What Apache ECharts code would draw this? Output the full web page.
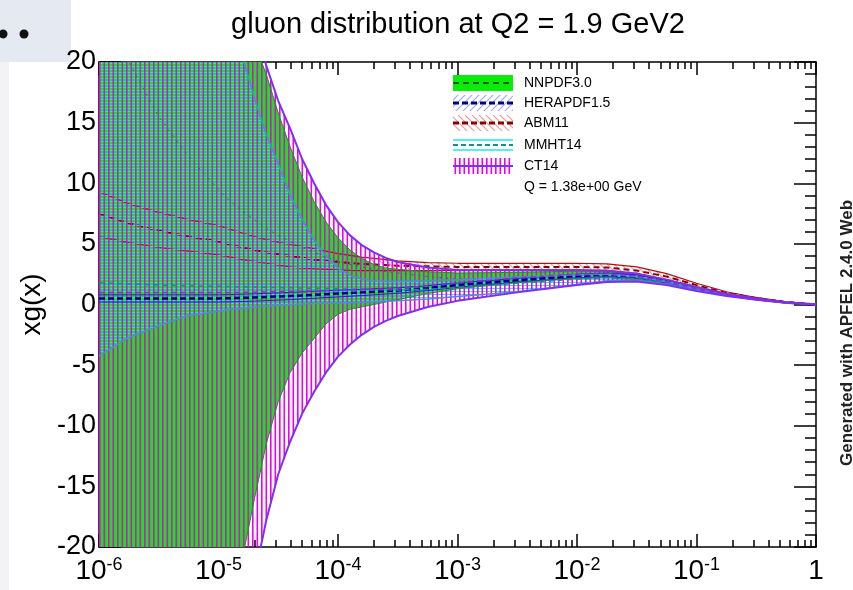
<!DOCTYPE html>
<html>
<head>
<meta charset="utf-8">
<title>gluon distribution</title>
<script src="https://cdn.jsdelivr.net/npm/echarts@6/dist/echarts.min.js"></script>
<style>
  html, body { margin: 0; padding: 0; background: #ffffff; }
  #chart { width: 853px; height: 590px; }
</style>
</head>
<body>
<div id="chart"></div>
<script>
// ---- sampling points in x (log scale) ----
const X_VALUES = [1e-6, 1.78e-6, 3.16e-6, 5.62e-6, 1e-5, 1.26e-5, 1.58e-5, 2e-5, 2.51e-5, 3.16e-5,
  3.98e-5, 5.01e-5, 6.31e-5, 7.94e-5, 1e-4, 1.26e-4, 1.58e-4, 2e-4, 2.51e-4, 3.16e-4,
  5.62e-4, 1e-3, 3.16e-3, 1e-2, 1.78e-2, 3.16e-2, 5.62e-2, 0.1, 0.178, 0.316, 0.562, 1];

// ---- axis ticks ----
const X_DECADES = [1e-6, 1e-5, 1e-4, 1e-3, 1e-2, 1e-1, 1];
const X_MINOR_STEPS = [2, 3, 4, 5, 6, 7, 8, 9];
const Y_MIN = -20, Y_MAX = 20, Y_STEP = 5;

// ---- PDF sets ----
const SET_NAMES = ['NNPDF3.0', 'HERAPDF1.5', 'ABM11', 'MMHT14', 'CT14'];

const NNPDF_HI  = [60, 50, 42, 36, 30, 27, 24.5, 21.5, 19, 15.8, 13, 10.5, 8.5, 6.8, 5.5, 4.5, 3.8, 3.3, 3.0, 2.9, 2.7, 2.6, 2.65, 2.75, 2.75, 2.55, 2.05, 1.45, 0.9, 0.52, 0.19, 0];
const NNPDF_MID = [30, 20, 15.5, 12.2, 9.5, 8.5, 7.7, 7.0, 6.3, 5.7, 5.2, 4.7, 4.3, 3.9, 3.6, 3.3, 3.1, 2.9, 2.7, 2.6, 2.3, 2.1, 2.2, 2.45, 2.5, 2.3, 1.88, 1.32, 0.82, 0.47, 0.17, 0];
const NNPDF_LO  = [-60, -55, -48, -40, -31, -26, -21, -16, -11.5, -8.0, -5.6, -4.0, -2.8, -1.6, -0.8, -0.4, -0.2, 0.0, 0.2, 0.4, 0.9, 1.3, 1.8, 2.15, 2.2, 2.05, 1.7, 1.2, 0.75, 0.42, 0.15, 0];

const HERA_HI  = [0.8, 0.8, 0.8, 0.8, 0.8, 0.82, 0.85, 0.88, 0.92, 0.96, 1.0, 1.04, 1.09, 1.13, 1.18, 1.22, 1.26, 1.3, 1.34, 1.38, 1.55, 1.78, 2.15, 2.5, 2.6, 2.45, 2.02, 1.4, 0.87, 0.49, 0.18, 0];
const HERA_MID = [0.5, 0.5, 0.5, 0.5, 0.5, 0.52, 0.55, 0.58, 0.62, 0.66, 0.7, 0.75, 0.8, 0.85, 0.9, 0.95, 1.0, 1.05, 1.1, 1.15, 1.35, 1.6, 2.0, 2.35, 2.45, 2.3, 1.9, 1.3, 0.8, 0.45, 0.16, 0];
const HERA_LO  = [0.2, 0.2, 0.2, 0.2, 0.2, 0.22, 0.25, 0.28, 0.32, 0.36, 0.4, 0.46, 0.51, 0.57, 0.62, 0.68, 0.74, 0.8, 0.86, 0.92, 1.15, 1.42, 1.85, 2.2, 2.3, 2.15, 1.78, 1.2, 0.73, 0.41, 0.14, 0];

const ABM_HI  = [9.3, 8.3, 7.6, 7.0, 6.5, 6.2, 5.9, 5.6, 5.35, 5.15, 4.95, 4.8, 4.6, 4.4, 4.2, 4.05, 3.9, 3.8, 3.7, 3.6, 3.45, 3.4, 3.4, 3.4, 3.35, 3.1, 2.55, 1.75, 1.05, 0.58, 0.21, 0];
const ABM_MID = [7.5, 6.7, 6.1, 5.6, 5.2, 4.95, 4.7, 4.5, 4.3, 4.15, 4.0, 3.85, 3.7, 3.6, 3.5, 3.42, 3.35, 3.3, 3.25, 3.2, 3.15, 3.1, 3.1, 3.1, 3.05, 2.8, 2.3, 1.6, 0.95, 0.53, 0.19, 0];
const ABM_LO  = [5.6, 5.1, 4.7, 4.4, 4.1, 3.9, 3.7, 3.55, 3.4, 3.25, 3.1, 3.0, 2.95, 2.9, 2.85, 2.82, 2.8, 2.8, 2.8, 2.8, 2.8, 2.8, 2.8, 2.8, 2.75, 2.5, 2.05, 1.45, 0.85, 0.48, 0.17, 0];

const MMHT_HI  = [70, 60, 50, 40, 30, 25, 20.5, 17, 14, 11.6, 9.0, 7.0, 5.3, 4.0, 3.0, 2.4, 2.1, 1.95, 1.9, 1.9, 1.95, 2.05, 2.25, 2.45, 2.5, 2.3, 1.88, 1.3, 0.8, 0.46, 0.16, 0];
const MMHT_MID = [1.8, 1.7, 1.6, 1.55, 1.5, 1.48, 1.46, 1.44, 1.42, 1.4, 1.38, 1.36, 1.34, 1.32, 1.3, 1.28, 1.26, 1.24, 1.22, 1.2, 1.25, 1.4, 1.75, 2.1, 2.2, 2.15, 1.8, 1.25, 0.77, 0.44, 0.16, 0];
const MMHT_LO  = [-4.25, -2.7, -1.75, -0.9, -0.55, -0.4, -0.3, -0.2, -0.12, -0.05, 0.0, 0.05, 0.08, 0.1, 0.12, 0.15, 0.18, 0.22, 0.26, 0.3, 0.45, 0.65, 1.05, 1.65, 1.95, 2.0, 1.7, 1.2, 0.74, 0.42, 0.15, 0];

const CT14_HI  = [80, 70, 60, 50, 40, 34, 28, 23.5, 19.7, 16.8, 14.5, 12.0, 10.0, 8.2, 6.8, 5.7, 4.9, 4.3, 3.85, 3.5, 3.05, 2.85, 2.85, 2.85, 2.8, 2.55, 2.05, 1.42, 0.88, 0.5, 0.18, 0];
const CT14_MID = [1.0, 1.0, 1.0, 1.0, 1.0, 1.0, 1.0, 1.02, 1.04, 1.06, 1.08, 1.1, 1.12, 1.14, 1.16, 1.19, 1.22, 1.25, 1.28, 1.32, 1.55, 1.8, 2.2, 2.5, 2.55, 2.35, 1.9, 1.3, 0.8, 0.45, 0.16, 0];
const CT14_LO  = [-80, -70, -60, -50, -40, -34, -28, -22.5, -17.8, -14.0, -11.3, -9.0, -7.2, -5.6, -4.3, -3.3, -2.5, -1.85, -1.35, -0.95, -0.2, 0.3, 1.0, 1.6, 1.85, 1.9, 1.6, 1.12, 0.7, 0.4, 0.14, 0];

// ---- texts ----
const TITLE = 'gluon distribution at Q2 = 1.9 GeV2';
const Y_NAME = 'xg(x)';
const SCALE_NOTE = 'Q = 1.38e+00 GeV';
const CREDIT = 'Generated with APFEL 2.4.0 Web';

const FONT = "'Liberation Sans', Arial, Helvetica, sans-serif";

// ---- fill patterns ----
function pattern(w, h, paint) {
  const c = document.createElement('canvas');
  c.width = w; c.height = h;
  paint(c.getContext('2d'), w, h);
  return { image: c, repeat: 'repeat' };
}
function diagonal(color, rising) {
  return pattern(7, 7, (g, w, h) => {
    g.strokeStyle = color; g.lineWidth = 1.1; g.beginPath();
    if (rising) {
      g.moveTo(0, h); g.lineTo(w, 0);
      g.moveTo(-1, 1); g.lineTo(1, -1);
      g.moveTo(w - 1, h + 1); g.lineTo(w + 1, h - 1);
    } else {
      g.moveTo(0, 0); g.lineTo(w, h);
      g.moveTo(-1, h - 1); g.lineTo(1, h + 1);
      g.moveTo(w - 1, -1); g.lineTo(w + 1, 1);
    }
    g.stroke();
  });
}
const FILL_NNPDF = '#0aec0a';
const FILL_HERA = diagonal('#9ea6ff', true);
const FILL_ABM = diagonal('#f29494', false);
const FILL_MMHT = pattern(2, 3, (g, w) => { g.fillStyle = '#12eeee'; g.fillRect(0, 0, w, 1); });
const FILL_CT14 = pattern(9, 2, (g, w, h) => {
  g.fillStyle = '#ee00ee';
  g.fillRect(0, 0, 1.6, h);
  g.fillRect(4.5, 0, 1.6, h);
});

// ---- series builders ----
function band(name, lo, hi, fill, z) {
  return {
    type: 'custom', name: name, z: z, silent: true, clip: true,
    xAxisIndex: 0, yAxisIndex: 0,
    data: X_VALUES.map((x, i) => [x, lo[i], hi[i]]),
    encode: { x: 0, y: [1, 2] },
    renderItem: function (params, api) {
      if (params.dataIndexInside !== 0) return null;
      const n = params.dataInsideLength;
      const upper = [], lower = [];
      for (let i = 0; i < n; i++) {
        const x = api.value(0, i);
        upper.push(api.coord([x, api.value(2, i)]));
        lower.push(api.coord([x, api.value(1, i)]));
      }
      const cs = params.coordSys;
      return {
        type: 'polygon',
        shape: { points: upper.concat(lower.reverse()) },
        style: { fill: fill, stroke: null },
        clipPath: { type: 'rect', shape: { x: cs.x, y: cs.y, width: cs.width, height: cs.height } }
      };
    }
  };
}
function curve(name, values, color, width, dash, z) {
  return {
    type: 'line', name: name, z: z, silent: true,
    xAxisIndex: 0, yAxisIndex: 0,
    data: X_VALUES.map((x, i) => [x, values[i]]),
    symbol: 'none', smooth: false,
    lineStyle: { color: color, width: width, type: dash || 'solid' },
    emphasis: { disabled: true }
  };
}

const series = [
  band(SET_NAMES[1], HERA_LO, HERA_HI, FILL_HERA, 2),
  band(SET_NAMES[2], ABM_LO, ABM_HI, FILL_ABM, 3),
  band(SET_NAMES[0], NNPDF_LO, NNPDF_HI, FILL_NNPDF, 4),
  curve(SET_NAMES[2], ABM_HI, '#b01010', 1.2, 'solid', 5),
  curve(SET_NAMES[2], ABM_LO, '#b01010', 1.2, 'solid', 5),
  curve(SET_NAMES[2], ABM_MID, '#8b0000', 2, [6, 4], 5),
  band(SET_NAMES[3], MMHT_LO, MMHT_HI, FILL_MMHT, 6),
  band(SET_NAMES[4], CT14_LO, CT14_HI, FILL_CT14, 7),
  curve(SET_NAMES[1], HERA_HI, '#2020d0', 1, 'solid', 8),
  curve(SET_NAMES[1], HERA_LO, '#2020d0', 1, 'solid', 8),
  curve(SET_NAMES[1], HERA_MID, '#00008b', 2.5, [6, 3], 8),
  curve(SET_NAMES[0], NNPDF_HI, '#2a8a2a', 1, 'solid', 9),
  curve(SET_NAMES[0], NNPDF_LO, '#2a8a2a', 1, 'solid', 9),
  curve(SET_NAMES[0], NNPDF_MID, '#2f6f45', 1, [2, 5], 9),
  curve(SET_NAMES[3], MMHT_HI, '#4a8ed8', 1.5, 'solid', 10),
  curve(SET_NAMES[3], MMHT_LO, '#4a8ed8', 1.5, 'solid', 10),
  curve(SET_NAMES[3], MMHT_MID, '#138f8f', 1.5, [5, 4], 10),
  curve(SET_NAMES[4], CT14_HI, '#7f2ff0', 2, 'solid', 11),
  curve(SET_NAMES[4], CT14_LO, '#7f2ff0', 2, 'solid', 11),
  curve(SET_NAMES[4], CT14_MID, '#8a2be2', 1.5, [5, 4], 11)
];

// ---- axes ----
const X_MINOR = [];
X_DECADES.slice(0, -1).forEach(d => X_MINOR_STEPS.forEach(m => X_MINOR.push(+(d * m).toPrecision(3))));

const TICK_STYLE = { color: '#000', width: 1.5 };
function axisLine(show) {
  return { show: show, onZero: false, lineStyle: { color: '#000', width: 1.5 } };
}

function xAxis(position, withLabels) {
  return {
    type: 'log', logBase: 10, min: X_DECADES[0], max: X_DECADES[X_DECADES.length - 1],
    position: position,
    axisLine: axisLine(true),
    axisTick: { show: true, inside: true, length: 13, lineStyle: TICK_STYLE, customValues: X_DECADES },
    axisLabel: withLabels ? {
      show: true, margin: 9, customValues: X_DECADES,
      formatter: function (v) {
        const e = Math.round(Math.log10(v));
        return e === 0 ? '{b|1}' : '{b|10}{s|' + e + '}';
      },
      rich: {
        b: { fontSize: 28, fontFamily: FONT, color: '#000', lineHeight: 30 },
        s: { fontSize: 18, fontFamily: FONT, color: '#000', lineHeight: 18, verticalAlign: 'top' }
      }
    } : { show: false },
    splitLine: { show: false }, minorTick: { show: false }, minorSplitLine: { show: false }
  };
}
function xMinorAxis(position) {
  return {
    type: 'log', logBase: 10, min: X_DECADES[0], max: X_DECADES[X_DECADES.length - 1],
    position: position,
    axisLine: axisLine(false),
    axisTick: { show: true, inside: true, length: 7, lineStyle: TICK_STYLE, customValues: X_MINOR },
    axisLabel: { show: false },
    splitLine: { show: false }
  };
}
function yAxis(position, withLabels) {
  return {
    type: 'value', min: Y_MIN, max: Y_MAX, interval: Y_STEP, position: position,
    axisLine: axisLine(true),
    axisTick: { show: true, inside: true, length: 22, lineStyle: TICK_STYLE },
    minorTick: { show: true, splitNumber: 5, length: 11, lineStyle: TICK_STYLE },
    axisLabel: withLabels ? { show: true, margin: 3, fontSize: 27, fontFamily: FONT, color: '#000' } : { show: false },
    splitLine: { show: false }, minorSplitLine: { show: false },
    name: withLabels ? Y_NAME : '',
    nameLocation: 'middle', nameRotate: 90, nameGap: 50,
    nameTextStyle: { fontSize: 28, fontFamily: FONT, color: '#000' }
  };
}

// ---- legend (drawn as graphics) ----
const LX = 453, LW = 60, LTX = 524;
const legendSwatches = [
  [
    { type: 'rect', shape: { x: LX, y: 75, width: LW, height: 16 }, style: { fill: FILL_NNPDF } },
    { type: 'line', shape: { x1: LX, y1: 83, x2: LX + LW, y2: 83 }, style: { stroke: '#1b5e1b', lineWidth: 2, lineDash: [6, 4] } }
  ],
  [
    { type: 'rect', shape: { x: LX, y: 95, width: LW, height: 16 }, style: { fill: FILL_HERA } },
    { type: 'line', shape: { x1: LX, y1: 103, x2: LX + LW, y2: 103 }, style: { stroke: '#00008b', lineWidth: 3, lineDash: [6, 3] } }
  ],
  [
    { type: 'rect', shape: { x: LX, y: 115, width: LW, height: 16 }, style: { fill: FILL_ABM } },
    { type: 'line', shape: { x1: LX, y1: 123, x2: LX + LW, y2: 123 }, style: { stroke: '#8b0000', lineWidth: 3, lineDash: [6, 3] } }
  ],
  [
    { type: 'line', shape: { x1: LX, y1: 140, x2: LX + LW, y2: 140 }, style: { stroke: '#12eeee', lineWidth: 1.6 } },
    { type: 'line', shape: { x1: LX, y1: 150, x2: LX + LW, y2: 150 }, style: { stroke: '#12eeee', lineWidth: 1.6 } },
    { type: 'line', shape: { x1: LX, y1: 145, x2: LX + LW, y2: 145 }, style: { stroke: '#138f8f', lineWidth: 2, lineDash: [5, 3] } }
  ],
  [
    { type: 'rect', shape: { x: LX, y: 158, width: LW, height: 16 }, style: { fill: FILL_CT14 } },
    { type: 'line', shape: { x1: LX, y1: 166, x2: LX + LW, y2: 166 }, style: { stroke: '#7f2ff0', lineWidth: 2 } }
  ]
];
const legendRows = [83, 103, 123, 145, 166];
const legendChildren = [];
SET_NAMES.forEach((name, i) => {
  legendSwatches[i].forEach(el => legendChildren.push(el));
  legendChildren.push({ type: 'text', x: LTX, y: legendRows[i],
    style: { text: name, fontSize: 14, fontFamily: FONT, fill: '#000', textAlign: 'left', textVerticalAlign: 'middle' } });
});
legendChildren.push({ type: 'text', x: LTX, y: 187,
  style: { text: SCALE_NOTE, fontSize: 14, fontFamily: FONT, fill: '#000', textAlign: 'left', textVerticalAlign: 'middle' } });

const chart = echarts.init(document.getElementById('chart'), null, { renderer: 'canvas', width: 853, height: 590 });
chart.setOption({
  backgroundColor: '#ffffff',
  animation: false,
  grid: { left: 99, right: 37, top: 62, bottom: 43, containLabel: false, outerBoundsMode: 'none' },
  xAxis: [xAxis('bottom', true), xMinorAxis('bottom'), xAxis('top', false), xMinorAxis('top')],
  yAxis: [yAxis('left', true), yAxis('right', false)],
  series: series,
  graphic: [
    { type: 'rect', z: 0, silent: true, shape: { x: 0, y: 62, width: 9, height: 528 }, style: { fill: '#f3f3f5' } },
    { type: 'rect', z: 0, silent: true, shape: { x: 0, y: 0, width: 71, height: 62 }, style: { fill: '#e5e9f1' } },
    { type: 'circle', z: 1, silent: true, shape: { cx: 3, cy: 34, r: 4.5 }, style: { fill: '#111' } },
    { type: 'circle', z: 1, silent: true, shape: { cx: 24, cy: 34, r: 4.5 }, style: { fill: '#111' } },
    { type: 'text', z: 1, silent: true, x: 458, y: 25,
      style: { text: TITLE, fontSize: 29, fontFamily: FONT, fill: '#000', textAlign: 'center', textVerticalAlign: 'middle' } },
    { type: 'text', z: 1, silent: true, x: 847, y: 333, rotation: Math.PI / 2,
      style: { text: CREDIT, fontSize: 17, fontWeight: 'bold', fontFamily: FONT, fill: '#222', textAlign: 'center', textVerticalAlign: 'middle' } },
    { type: 'group', z: 100, silent: true, children: legendChildren }
  ]
});
</script>
</body>
</html>
